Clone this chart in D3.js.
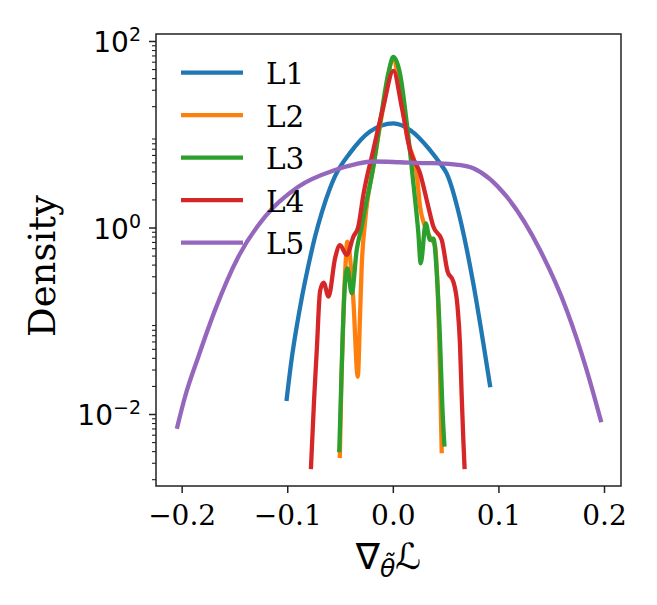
<!DOCTYPE html>
<html lang="en">
<head>
	<meta charset="UTF-8">
	<title>Gradient density</title>
	<script src="https://cdn.jsdelivr.net/npm/d3@7"></script>
	<style type="text/css">
		body { margin: 0; background: #fff; }
		.curve { fill: none; stroke-width: 4.3; stroke-linecap: square; stroke-linejoin: round; }
		.tick text { font-family: "DejaVu Serif", serif; }
	</style>
</head>
<body>

<script type="text/javascript">
	// series: x = gradient value, y = density
	var names = ['L1', 'L2', 'L3', 'L4', 'L5'];
	var colors = ['#1f77b4', '#ff7f0e', '#2ca02c', '#d62728', '#9467bd'];

	var l1X = [-0.1005, -0.0957, -0.091, -0.0863, -0.0815, -0.0737, -0.0673, -0.0595, -0.0547, -0.0405, -0.0216, 0.0005, 0.0163, 0.0352, 0.0447, 0.051, 0.0636, 0.0762, 0.0857, 0.092];
	var l1Y = [0.0145, 0.0398, 0.0871, 0.174, 0.324, 0.794, 1.445, 2.63, 3.55, 6.31, 10.7, 13.1, 11.1, 6.76, 4.88, 3.8, 1.26, 0.251, 0.0575, 0.0204];

	var l2X = [-0.0502, -0.0486, -0.0467, -0.0448, -0.0431, -0.0374, -0.0332, -0.0311, -0.0295, -0.0263, -0.0178, -0.009, 0.0002, 0.0078, 0.0139, 0.0226, 0.0258, 0.0305, 0.0352, 0.04, 0.0425, 0.044, 0.0454, 0.0463];
	var l2Y = [0.00355, 0.0251, 0.126, 0.398, 0.705, 0.167, 0.0251, 0.11, 0.38, 1.15, 5.0, 19.7, 63, 25, 8.9, 3.8, 1.67, 1.02, 0.79, 0.63, 0.214, 0.063, 0.012, 0.004];

	var l3X = [-0.0507, -0.0493, -0.0474, -0.0453, -0.0431, -0.0389, -0.0342, -0.0295, -0.0247, -0.02, -0.0121, -0.0043, 0.0005, 0.0068, 0.0132, 0.0194, 0.0241, 0.0264, 0.0312, 0.0352, 0.0385, 0.0416, 0.0447, 0.0469, 0.0488];
	var l3Y = [0.0041, 0.0141, 0.0741, 0.252, 0.365, 0.197, 0.575, 1.02, 1.97, 3.55, 13.2, 44.7, 67.6, 44.7, 13.2, 3.02, 0.891, 0.413, 1.11, 0.735, 0.759, 0.324, 0.0622, 0.012, 0.0047];

	var l4X = [-0.0775, -0.0746, -0.072, -0.0689, -0.0656, -0.0609, -0.0547, -0.05, -0.0437, -0.0374, -0.0327, -0.0279, -0.0185, -0.009, 0.0005, 0.0084, 0.0163, 0.0258, 0.0336, 0.0384, 0.0463, 0.0518, 0.0573, 0.0613, 0.0636, 0.0652, 0.0668, 0.0679];
	var l4Y = [0.0027, 0.0141, 0.049, 0.209, 0.257, 0.182, 0.468, 0.646, 0.507, 0.796, 1.02, 2.24, 6.76, 19.7, 47.9, 19.7, 6.76, 3.8, 1.67, 1.02, 0.735, 0.339, 0.263, 0.141, 0.056, 0.0158, 0.0052, 0.0027];

	var l5X = [-0.2041, -0.1968, -0.1842, -0.1684, -0.1463, -0.121, -0.0895, -0.0547, -0.035, -0.0188, 0.0068, 0.03, 0.0447, 0.06, 0.0762, 0.1079, 0.1394, 0.1647, 0.1836, 0.1969];
	var l5Y = [0.0073, 0.0153, 0.0411, 0.13, 0.486, 1.31, 2.74, 4.14, 4.79, 5.1, 5.01, 4.9, 4.88, 4.73, 4.32, 2.14, 0.574, 0.13, 0.0296, 0.0086];

	var xTicks = [-0.2, -0.1, 0.0, 0.1, 0.2];
	var xTickLabels = ['\u22120.2', '\u22120.1', '0.0', '0.1', '0.2'];
	var yTicks = [0.01, 1, 100];
	var yTickExps = ['\u22122', '0', '2'];

	window.onload = function () {

		var W = 657, H = 605;
		var left = 156, right = 621, top = 34, bottom = 486;

		var svg = d3.select('body').append('svg')
			.attr('width', W)
			.attr('height', H);

		var x = d3.scaleLinear()
			.domain([-0.2243, 0.2161])
			.range([left, right]);

		var y = d3.scaleLog()
			.domain([Math.pow(10, -2.772), Math.pow(10, 2.075)])
			.range([bottom, top]);

		var series = [
			{xs: l1X, ys: l1Y}, {xs: l2X, ys: l2Y}, {xs: l3X, ys: l3Y},
			{xs: l4X, ys: l4Y}, {xs: l5X, ys: l5Y}
		];

		var line = d3.line()
			.x(function (d) { return x(d[0]); })
			.y(function (d) { return y(d[1]); })
			.curve(d3.curveMonotoneX);

		series.forEach(function (s, i) {
			svg.append('path')
				.attr('class', 'curve')
				.attr('d', line(d3.zip(s.xs, s.ys)))
				.style('stroke', colors[i]);
		});

		// minor ticks for log axis
		var minor = [];
		for (var k = -3; k <= 2; k++) {
			for (var m = 2; m <= 9; m++) {
				var v = m * Math.pow(10, k);
				if (v > y.domain()[0] && v < y.domain()[1]) minor.push(v);
			}
		}

		var gx = svg.append('g')
			.attr('transform', 'translate(0,' + bottom + ')')
			.call(d3.axisBottom(x).tickValues(xTicks).tickSize(7).tickPadding(5)
				.tickFormat(function (d, i) { return xTickLabels[i]; }));
		gx.select('.domain').remove();
		gx.selectAll('.tick line').attr('stroke', '#222').attr('stroke-width', 1.5);
		gx.selectAll('.tick text').attr('font-size', '28px').attr('fill', '#000')
			.attr('dy', null).attr('y', 39);

		var gym = svg.append('g')
			.attr('transform', 'translate(' + left + ',0)')
			.call(d3.axisLeft(y).tickValues(minor).tickSize(4).tickFormat(''));
		gym.select('.domain').remove();
		gym.selectAll('.tick line').attr('stroke', '#222').attr('stroke-width', 1.1);

		var gy = svg.append('g')
			.attr('transform', 'translate(' + left + ',0)')
			.call(d3.axisLeft(y).tickValues(yTicks).tickSize(7).tickFormat(''));
		gy.select('.domain').remove();
		gy.selectAll('.tick line').attr('stroke', '#222').attr('stroke-width', 1.5);

		yTicks.forEach(function (t, i) {
			var txt = svg.append('text')
				.attr('x', left - 15)
				.attr('y', y(t) + 11)
				.attr('text-anchor', 'end')
				.style('font-family', '"DejaVu Sans", sans-serif')
				.style('font-size', '28px');
			txt.append('tspan').text('10');
			txt.append('tspan').attr('dy', -11).style('font-size', '19px').text(yTickExps[i]);
		});

		// frame
		svg.append('rect')
			.attr('x', left).attr('y', top)
			.attr('width', right - left).attr('height', bottom - top)
			.attr('fill', 'none').attr('stroke', '#222').attr('stroke-width', 1.5);

		// legend
		names.forEach(function (n, i) {
			var ry = 72.7 + i * 42.5;
			svg.append('line')
				.attr('x1', 181).attr('x2', 243)
				.attr('y1', ry).attr('y2', ry)
				.attr('stroke', colors[i]).attr('stroke-width', 4.3);
			svg.append('text')
				.attr('x', 266).attr('y', ry + 11.5)
				.style('font-family', '"DejaVu Serif", serif')
				.style('font-size', '29.5px')
				.text(n);
		});

		// axis labels
		svg.append('text')
			.attr('transform', 'translate(55,266) rotate(-90)')
			.attr('text-anchor', 'middle')
			.style('font-family', '"DejaVu Serif", serif')
			.style('font-size', '37px')
			.text('Density');

		var xl = svg.append('text')
			.attr('x', 388.5).attr('y', 569)
			.attr('text-anchor', 'middle')
			.style('font-family', '"DejaVu Sans", sans-serif')
			.style('font-size', '36px');
		xl.append('tspan').text('\u2207');
		xl.append('tspan').attr('dy', 8).style('font-size', '25px').style('font-style', 'italic').text('\u03b8\u0303');
		xl.append('tspan').attr('dy', -8).style('font-style', 'italic').text('\u2112');
	};
</script>

</body>
</html>
